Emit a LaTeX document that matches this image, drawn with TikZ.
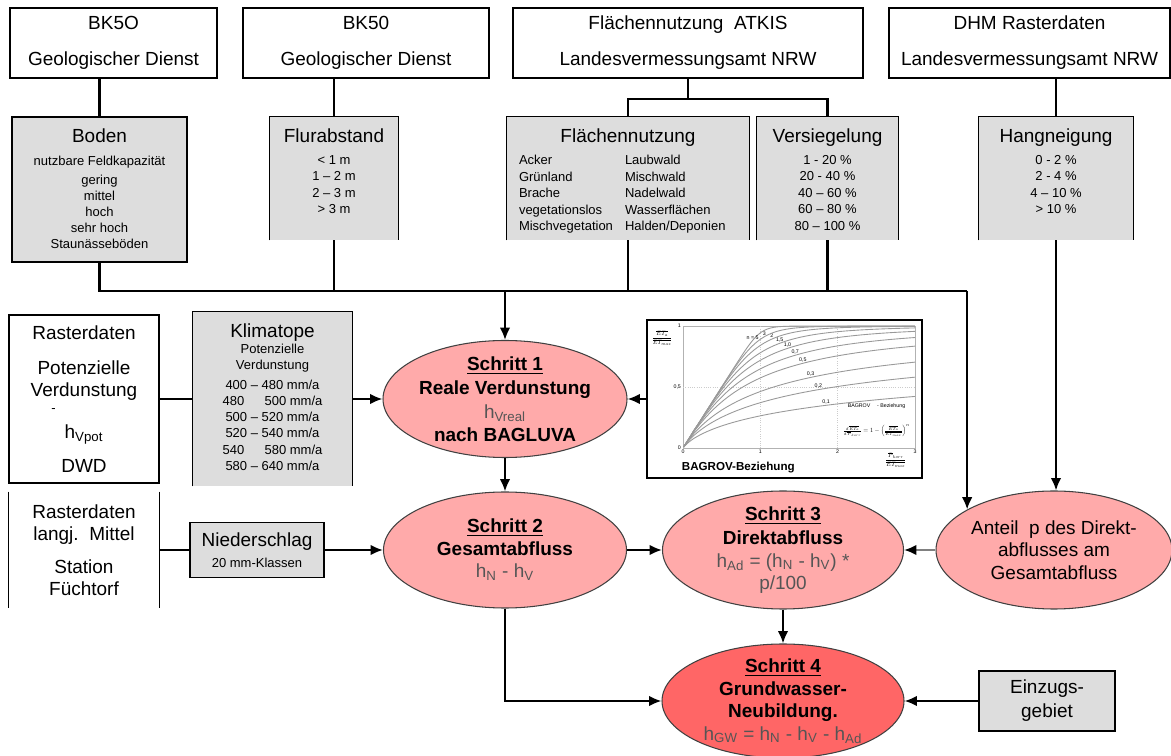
\documentclass[tikz,border=0pt]{standalone}
\usepackage{fontspec}
\setmainfont{Liberation Sans}
\usepackage{amsmath}
\usetikzlibrary{shapes.geometric,arrows.meta}
\definecolor{kastengrau}{RGB}{221,221,221}
\definecolor{schrittrosa}{RGB}{255,170,170}
\definecolor{schrittrot}{RGB}{255,102,102}
\definecolor{formelgrau}{RGB}{85,85,85}
\newcommand\grosstext{\fontsize{10.8}{12.8}\selectfont}
\newcommand\kleintext{\fontsize{7.4}{9.4}\selectfont}
\newcommand\winzig{\fontsize{3}{3.5}\selectfont}
\newcommand\tief[1]{\textsubscript{#1}}

\begin{document}
\begin{tikzpicture}[
    quelle/.style={draw, line width=0.8pt, fill=white, inner sep=0pt, align=center, font=\grosstext},
    kasten/.style={fill=kastengrau, inner sep=0pt},
    kastentext/.style={anchor=north, inner sep=0pt, align=center, font=\kleintext},
    schritt/.style={ellipse, draw=black!75, line width=0.6pt, fill=schrittrosa, inner sep=-3pt, align=center, font=\grosstext},
    verbindung/.style={line width=1.2pt},
    pfeil/.style={line width=1.2pt, -{Latex[length=7pt,width=6pt]}}
  ]
  \useasboundingbox (0,0) rectangle (23.42,15.1);
  % data sources on top
  \node[quelle, minimum width=4.14cm, minimum height=1.4cm] (bkfuenfo) at (2.27,14.24) {BK5O\\[7.7pt]Geologischer Dienst};
  \node[quelle, minimum width=4.92cm, minimum height=1.4cm] (bkfuenfzig) at (7.32,14.24) {BK50\\[7.7pt]Geologischer Dienst};
  \node[quelle, minimum width=7.0cm, minimum height=1.4cm] (atkis) at (13.76,14.24) {Flächennutzung\ \ ATKIS\\[7.7pt]Landesvermessungsamt\ NRW};
  \node[quelle, minimum width=5.62cm, minimum height=1.4cm] (dhm) at (20.59,14.24) {DHM Rasterdaten\\[7.7pt]Landesvermessungsamt NRW};

  % classified layers
  \node[kasten, draw, line width=0.7pt, minimum width=3.5cm, minimum height=2.9cm] (boden) at (1.99,11.31) {};
  \node[kastentext, font=\fontsize{7.4}{9.2}\selectfont] (bodentext) at ([yshift=-0.24cm]boden.north) {{\grosstext Boden}\\[3.8pt] nutzbare Feldkapazität\\[1.6pt] gering\\ mittel\\ hoch\\ sehr hoch\\ Staunässeböden};
  \node[kasten, minimum width=2.56cm, minimum height=2.46cm] (flur) at (6.68,11.53) {};
  \node[kastentext] (flurtext) at ([yshift=-0.24cm]flur.north) {{\grosstext Flurabstand}\\[2.8pt] < 1 m\\ 1 – 2 m\\ 2 – 3 m\\ > 3 m};
  \node[kasten, minimum width=4.84cm, minimum height=2.46cm] (flaeche) at (12.56,11.53) {};
  \node[kastentext] (flaechetext) at ([yshift=-0.24cm]flaeche.north) {\grosstext Flächennutzung};
  \node[kastentext, anchor=north west, align=left] (nutzlinks) at ([xshift=0.24cm, yshift=-0.77cm]flaeche.north west) {Acker\\ Grünland\\ Brache\\ vegetationslos\\ Mischvegetation};
  \node[kastentext, anchor=north west, align=left] (nutzrechts) at ([xshift=2.36cm, yshift=-0.77cm]flaeche.north west) {Laubwald\\ Mischwald\\ Nadelwald\\ Wasserflächen\\ Halden/Deponien};
  \node[kasten, minimum width=2.82cm, minimum height=2.46cm] (versieg) at (16.55,11.53) {};
  \node[kastentext] (versiegtext) at ([yshift=-0.24cm]versieg.north) {{\grosstext Versiegelung}\\[2.8pt] 1 - 20 \%\\ 20 - 40 \%\\ 40 – 60 \%\\ 60 – 80 \%\\ 80 – 100 \%};
  \node[kasten, minimum width=3.08cm, minimum height=2.46cm] (hang) at (21.12,11.53) {};
  \node[kastentext] (hangtext) at ([yshift=-0.24cm]hang.north) {{\grosstext Hangneigung}\\[2.8pt] 0 - 2 \%\\ 2 - 4 \%\\ 4 – 10 \%\\ > 10 \%};

  % climate inputs
  \node[quelle, minimum width=3.0cm, minimum height=3.36cm] (potverd) at (1.68,7.12) {Rasterdaten\\[7.1pt] Potenzielle\\ Verdunstung\\[-3.7pt] {\kleintext\makebox[1.3cm][l]{-}}\\[2pt] h\tief{Vpot}\\[6.5pt] DWD};
  \node[kasten, minimum width=3.18cm, minimum height=3.48cm] (klima) at (5.45,7.12) {};
  \node[kastentext, font=\fontsize{7.4}{9.2}\selectfont] (klimatext) at ([yshift=-0.24cm]klima.north) {{\grosstext Klimatope}\\[-0.4pt] Potenzielle\\ Verdunstung\\[2.2pt] 400 – 480 mm/a\\ 480 \quad\ 500 mm/a\\ 500 – 520 mm/a\\ 520 – 540 mm/a\\ 540 \quad\ 580 mm/a\\ 580 – 640 mm/a};
  \node[inner sep=0pt, minimum width=3.0cm, minimum height=2.32cm, align=center, font=\grosstext] (mittelwert) at (1.68,4.1) {Rasterdaten\\ langj.\ \ Mittel\\[5.7pt] Station\\ Füchtorf};
  \node[kasten, draw, line width=0.7pt, minimum width=2.68cm, minimum height=1.1cm, align=center, font=\kleintext] (niederschlag) at (5.14,4.1) {{\grosstext Niederschlag}\\[2.8pt] 20 mm-Klassen};
  \node[kasten, draw, line width=0.7pt, minimum width=2.72cm, minimum height=1.2cm, align=center, font=\grosstext] (einzug) at (20.94,1.08) {Einzugs-\\[0.8pt] gebiet};

  \foreach \kastenname in {flur,flaeche,versieg,hang,klima}
    \draw[line width=0.7pt] (\kastenname.south west) |- (\kastenname.north east) -- (\kastenname.south east);
  \draw[line width=0.5pt] (mittelwert.north west) -- (mittelwert.south west) (mittelwert.north east) -- (mittelwert.south east);

  % calculation steps
  \node[schritt, minimum width=4.88cm, minimum height=2.34cm] (verdunstung) at (10.1,7.12) {\textbf{\underline{Schritt 1}}\\[1pt] \textbf{Reale Verdunstung}\\[1pt] \textcolor{formelgrau}{h\tief{Vreal}}\\ \textbf{nach BAGLUVA}};
  \node[schritt, minimum width=4.86cm, minimum height=2.32cm] (gesamtabfluss) at (10.1,4.1) {\textbf{\underline{Schritt 2}}\\ \textbf{Gesamtabfluss}\\ \textcolor{formelgrau}{h\tief{N} - h\tief{V}}};
  \node[schritt, minimum width=4.82cm, minimum height=2.36cm] (direktabfluss) at (15.66,4.1) {\textbf{\underline{Schritt 3}}\\[1pt] \textbf{Direktabfluss}\\ \textcolor{formelgrau}{h\tief{Ad} = (h\tief{N} - h\tief{V}) *}\\ \textcolor{formelgrau}{p/100}};
  \node[schritt, minimum width=4.72cm, minimum height=2.36cm] (anteil) at (21.08,4.1) {Anteil\ \ p des Direkt-\\ abflusses am\\ Gesamtabfluss};
  \node[schritt, fill=schrittrot, minimum width=4.84cm, minimum height=2.28cm] (neubildung) at (15.66,1.08) {\textbf{\underline{Schritt 4}}\\ \textbf{Grundwasser-}\\ \textbf{Neubildung.}\\ \textcolor{formelgrau}{h\tief{GW} = h\tief{N} - h\tief{V} - h\tief{Ad}}};

  % Bagrov chart
  \node[draw, line width=1.6pt, fill=white, minimum width=5.5cm, minimum height=3.16cm, inner sep=0pt] (bagrov) at (15.69,7.12) {};
  \begin{scope}[shift={(13.66,6.14)}, x=1.547cm, y=2.44cm]
    \draw[black!30, line width=0.3pt] (0,0) rectangle (3,1);
    \draw[black!20, densely dotted, line width=0.3pt] (0,0.5) -- (3,0.5) (1,0) -- (1,1) (2,0) -- (2,1);
    \foreach \n/\lab/\lx [count=\k] in {0.52/{0,1}/1.85, 0.7/{0,2}/1.75, 0.9/{0,3}/1.65, 1.25/{0,5}/1.55, 1.6/{0,7}/1.45, 2.1/{1,0}/1.35, 2.8/{1,5}/1.25, 4/2/1.15, 6/3/1.05, 12/{n = 5}/0.9} {
      \draw[black!40, line width=0.5pt] plot[domain=0.01:3, samples=70, smooth] (\x, {exp(ln(\x)-(max(\n*ln(\x),0)+ln(1+exp(-abs(\n*ln(\x)))))/\n)});
      \pgfmathsetmacro\ly{exp(ln(\lx)-(max(\n*ln(\lx),0)+ln(1+exp(-abs(\n*ln(\lx)))))/\n)}
      \node[font=\winzig, above, inner sep=0.5pt] (kurve\k) at (\lx,\ly) {\lab};
    }
    \foreach \t [count=\k] in {0,1,2,3}
      \node[font=\winzig, below, inner sep=1pt] (xmarke\k) at (\t,0) {\t};
    \node[font=\winzig, left, inner sep=1pt] (ymarkenull) at (0,0) {0};
    \node[font=\winzig, left, inner sep=1pt] (ymarkehalb) at (0,0.5) {0,5};
    \node[font=\winzig, left, inner sep=1pt] (ymarkeeins) at (0,1) {1};
    \node[scale=0.35] (yachse) at (-0.27,0.9) {$\dfrac{\overline{ET_a}}{\overline{ET_{max}}}$};
    \node[scale=0.35] (xachse) at (2.75,-0.1) {$\dfrac{\overline{P}_{korr}}{\overline{ET_{max}}}$};
    \node[font=\winzig, anchor=west] (bagrovname) at (2.05,0.34) {BAGROV \quad - Beziehung};
    \node[scale=0.36] (bagrovformel) at (2.5,0.14) {$\frac{d\,\overline{ET_a}}{d\,\overline{P}_{korr}} = 1-\Bigl(\frac{\overline{ET_a}}{\overline{ET_{max}}}\Bigr)^{n}$};
  \end{scope}
  \node[font=\bfseries\fontsize{6.6}{8}\selectfont, anchor=south west, inner sep=0pt] (bagrovtitel) at ([xshift=0.72cm, yshift=0.13cm]bagrov.south west) {BAGROV-Beziehung};

  % connectors
  \draw[verbindung] (bkfuenfo.south -| boden.north) -- (boden.north);
  \draw[verbindung] (bkfuenfzig.south -| flur.north) -- (flur.north);
  \draw[verbindung] (atkis.south) -- ++(0,-0.4) coordinate (atkisknoten);
  \draw[verbindung] (flaeche.north) |- (atkisknoten) -| (versieg.north);
  \draw[verbindung] (dhm.south -| hang.north) -- (hang.north);
  \coordinate (sammel) at (0,9.28);
  \coordinate (knick) at (anteil.155 |- sammel);
  \draw[verbindung] (boden.south) |- (knick);
  \draw[verbindung] (flur.south) -- (flur.south |- knick);
  \draw[verbindung] (flaeche.south) -- (flaeche.south |- knick);
  \draw[verbindung] (versieg.south) -- (versieg.south |- knick);
  \draw[pfeil] (verdunstung.north |- knick) -- (verdunstung.north);
  \draw[pfeil] (knick) -- (anteil.155);
  \draw[pfeil] (hang.south) -- (hang.south |- anteil.north);
  \draw[verbindung] (potverd.east) -- (klima.west);
  \draw[pfeil] (klima.east) -- (verdunstung.west);
  \draw[pfeil] (bagrov.west) -- (verdunstung.east);
  \draw[pfeil] (verdunstung.south) -- (gesamtabfluss.north);
  \draw[verbindung] (mittelwert.east) -- (niederschlag.west);
  \draw[pfeil] (niederschlag.east) -- (gesamtabfluss.west);
  \draw[pfeil] (gesamtabfluss.east) -- (direktabfluss.west);
  \draw[line width=1.2pt, black!50, -{Latex[length=7pt,width=6pt,color=black]}] (anteil.west) -- (direktabfluss.east);
  \draw[pfeil] (direktabfluss.south) -- (neubildung.north);
  \draw[pfeil] (gesamtabfluss.south) |- (neubildung.west);
  \draw[pfeil] (einzug.west) -- (neubildung.east);
\end{tikzpicture}
\end{document}
